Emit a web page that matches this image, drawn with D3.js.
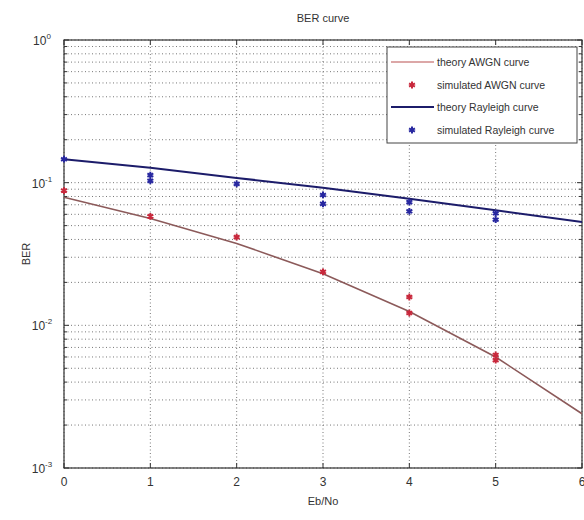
<!DOCTYPE html>
<html>
<head>
<meta charset="utf-8">
<script src="https://cdn.jsdelivr.net/npm/d3@7"></script>
<style>
  body { margin: 0; background: #fff; }
  svg { display: block; font-family: "Liberation Sans", Arial, sans-serif; }
</style>
</head>
<body>
<svg width="584" height="520"></svg>
<script>
// values
const ebno = [0, 1, 2, 3, 4, 5, 6];
const theoryAwgn = [0.079, 0.056, 0.0375, 0.023, 0.0125, 0.006, 0.0024];
const theoryRayleigh = [0.146, 0.127, 0.108, 0.092, 0.077, 0.064, 0.053];

const simAwgnX = [0, 1, 2, 3, 4, 4, 5, 5];
const simAwgnY = [0.088, 0.058, 0.0415, 0.0237, 0.0158, 0.0122, 0.0062, 0.0057];
const simRayX = [0, 1, 1, 2, 3, 3, 4, 4, 5, 5];
const simRayY = [0.146, 0.113, 0.103, 0.098, 0.082, 0.071, 0.073, 0.063, 0.061, 0.055];

const xTicks = [0, 1, 2, 3, 4, 5, 6];
const yTicks = [1, 0.1, 0.01, 0.001];
const yTickExp = ["0", "-1", "-2", "-3"];
const legendLabels = ["theory AWGN curve", "simulated AWGN curve", "theory Rayleigh curve", "simulated Rayleigh curve"];

const svg = d3.select("svg");
const margin = { left: 64, right: 2, top: 40, bottom: 52 };
const width = 584, height = 520;

const x = d3.scaleLinear().domain([0, 6]).range([margin.left, width - margin.right]);
const y = d3.scaleLog().domain([0.001, 1]).range([height - margin.bottom, margin.top]);

const redLine = "#8c5a5a", redMark = "#c8283c";
const blueLine = "#1c1c6a", blueMark = "#2828a0";

// grid (major x, major+minor y), dotted like matlab
const minor = [];
for (let e = -3; e < 0; e++) for (let k = 1; k < 10; k++) minor.push(k * Math.pow(10, e));
minor.push(1);

const grid = svg.append("g").attr("stroke", "#777").attr("stroke-width", 1).attr("stroke-dasharray", "1,2.5");
grid.selectAll(".gx").data(xTicks).join("line")
  .attr("x1", d => x(d)).attr("x2", d => x(d))
  .attr("y1", y(1)).attr("y2", y(0.001));
grid.selectAll(".gy").data(minor).join("line")
  .attr("x1", x(0)).attr("x2", x(6))
  .attr("y1", d => y(d)).attr("y2", d => y(d));

// axes box with inward ticks
const box = svg.append("g").attr("stroke", "#333").attr("fill", "none");
box.append("rect").attr("x", x(0)).attr("y", y(1))
  .attr("width", x(6) - x(0)).attr("height", y(0.001) - y(1)).attr("stroke-width", 1.2);

box.selectAll(".tx").data(xTicks).join("path")
  .attr("d", d => `M${x(d)},${y(0.001)}v-5M${x(d)},${y(1)}v5`);
box.selectAll(".ty").data(minor).join("path")
  .attr("d", d => {
    const len = yTicks.includes(d) ? 5 : 3;
    return `M${x(0)},${y(d)}h${len}M${x(6)},${y(d)}h${-len}`;
  });

// tick labels
svg.append("g").selectAll("text").data(xTicks).join("text")
  .attr("x", d => x(d)).attr("y", height - margin.bottom + 18)
  .attr("text-anchor", "middle").attr("font-size", 12).attr("fill", "#333")
  .text(d => d);

const yl = svg.append("g").selectAll("text").data(yTicks).join("text")
  .attr("x", margin.left - 22).attr("y", d => y(d) + 5)
  .attr("text-anchor", "middle").attr("font-size", 12).attr("fill", "#333");
yl.append("tspan").text("10");
yl.append("tspan").attr("dy", -6).attr("font-size", 8).text((d, i) => yTickExp[i]);

// titles
svg.append("text").attr("x", (x(0) + x(6)) / 2).attr("y", 22)
  .attr("text-anchor", "middle").attr("font-size", 11).attr("fill", "#333").text("BER curve");
svg.append("text").attr("x", (x(0) + x(6)) / 2).attr("y", 505)
  .attr("text-anchor", "middle").attr("font-size", 11).attr("fill", "#333").text("Eb/No");
svg.append("text").attr("transform", `translate(30,${(y(1) + y(0.001)) / 2}) rotate(-90)`)
  .attr("text-anchor", "middle").attr("font-size", 11).attr("fill", "#333").text("BER");

// curves
const line = d3.line().x((d, i) => x(ebno[i])).y(d => y(d));
svg.append("path").attr("d", line(theoryAwgn)).attr("fill", "none")
  .attr("stroke", redLine).attr("stroke-width", 1.6);
svg.append("path").attr("d", line(theoryRayleigh)).attr("fill", "none")
  .attr("stroke", blueLine).attr("stroke-width", 2);

const star = d3.symbol().type(d3.symbolAsterisk).size(32);
svg.append("g").selectAll("path").data(simAwgnY).join("path")
  .attr("transform", (d, i) => `translate(${x(simAwgnX[i])},${y(d)})`)
  .attr("d", star).attr("fill", "none").attr("stroke", redMark).attr("stroke-width", 2);
svg.append("g").selectAll("path").data(simRayY).join("path")
  .attr("transform", (d, i) => `translate(${x(simRayX[i])},${y(d)})`)
  .attr("d", star).attr("fill", "none").attr("stroke", blueMark).attr("stroke-width", 2);

// legend
const lg = svg.append("g");
lg.append("rect").attr("x", 387).attr("y", 47).attr("width", 190).attr("height", 96)
  .attr("fill", "#fff").attr("stroke", "#444").attr("stroke-width", 1);
const rowY = [62, 85, 107, 130];
legendLabels.forEach((lab, i) => {
  const ry = rowY[i];
  if (i === 0 || i === 2) {
    lg.append("line").attr("x1", 391).attr("x2", 434).attr("y1", ry).attr("y2", ry)
      .attr("stroke", i === 0 ? "#d08a8a" : blueLine).attr("stroke-width", i === 0 ? 1.4 : 2);
  } else {
    lg.append("path").attr("transform", `translate(412,${ry})`).attr("d", star)
      .attr("fill", "none").attr("stroke", i === 1 ? redMark : blueMark).attr("stroke-width", 2);
  }
  lg.append("text").attr("x", 437).attr("y", ry + 4).attr("font-size", 10.5)
    .attr("fill", "#333").text(lab);
});
</script>
</body>
</html>
